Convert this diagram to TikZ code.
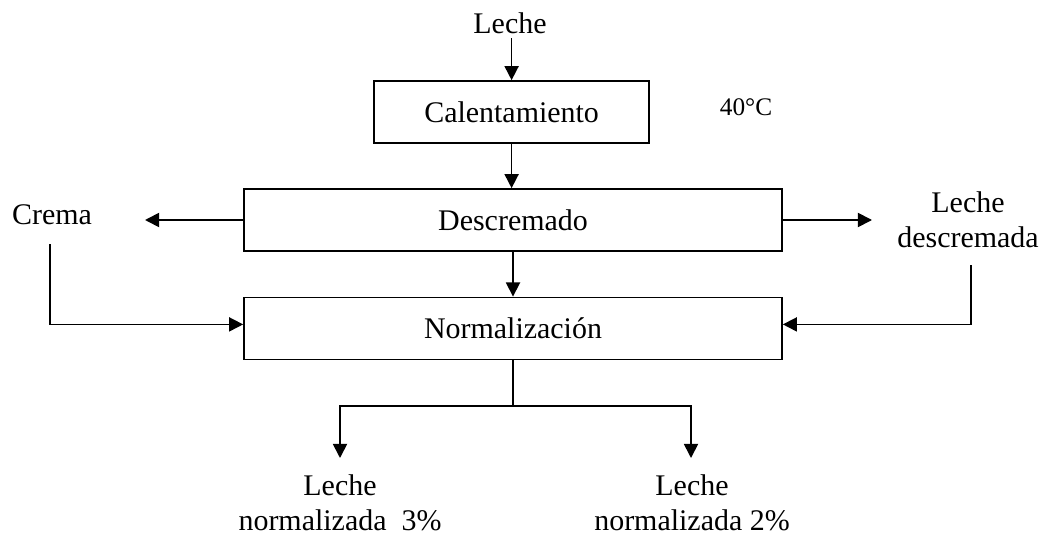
\documentclass[tikz,border=0pt]{standalone}
\usepackage{fontspec}
\setmainfont{Liberation Serif}
\usetikzlibrary{arrows.meta}

\tikzset{
  proc/.style={draw, line width=1.2pt, minimum height=1.55cm, inner sep=0pt},
  flow/.style={line width=1.2pt, -{Triangle[length=10pt,width=10pt]}},
  txt/.style={align=center, inner sep=0pt},
}

\begin{document}
\begin{tikzpicture}[font=\fontsize{21.3}{25}\selectfont]
\useasboundingbox (0,0) rectangle (26.1,-13.4);

\node (leche) at (12.75,-0.575) {Leche};
\node[proc, minimum width=6.875cm] (calent) at (12.79,-2.8) {Calentamiento};
\node[font=\fontsize{18}{21}\selectfont] (temp) at (18.65,-2.675) {40°C};

\node[proc, minimum width=13.45cm] (descr) at (12.825,-5.5) {Descremado};
\node[proc, minimum width=13.45cm] (norm) at (12.825,-8.21) {Normalización};

\node (crema) at (1.3,-5.375) {Crema};
\node[txt] (lechedes) at (24.2,-5.5) {Leche\\descremada};

\node[txt] (out3) at (8.5,-12.56) {Leche\\normalizada\ \ 3\%};
\node[txt] (out2) at (17.3,-12.56) {Leche\\normalizada 2\%};

% free ends
\coordinate (cremaend) at (3.625,-5.5);
\coordinate (ldend) at (21.8,-5.5);
\coordinate (cremadown) at (1.25,-6.1);
\coordinate (ldup) at (24.275,-6.625);
\coordinate (split) at (12.825,-10.15);
\coordinate (tip3) at (8.5,-11.45);
\coordinate (tip2) at (17.275,-11.45);

\draw[flow] (leche.south -| calent.north) -- (calent.north);
\draw[flow] (calent.south) -- (calent.south |- descr.north);
\draw[flow] (descr.south) -- (norm.north);
\draw[flow] (descr.west) -- (cremaend);
\draw[flow] (descr.east) -- (ldend);
\draw[flow] (cremadown) |- ([yshift=1mm]norm.west);
\draw[flow] (ldup) |- ([yshift=1mm]norm.east);
\draw[line width=1.2pt] (norm.south) -- (split);
\draw[flow] (split) -| (tip3);
\draw[flow] (split) -| (tip2);
\end{tikzpicture}
\end{document}
